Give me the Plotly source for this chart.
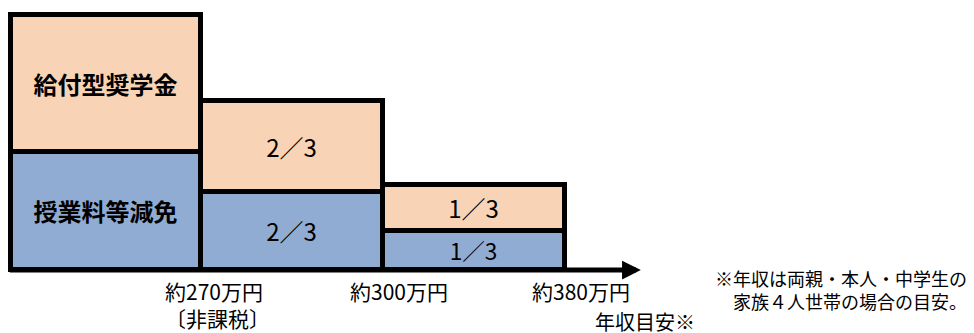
import plotly.graph_objects as go

# ---- data ----
income_labels = ["約270万円<br>〔非課税〕", "約300万円", "約380万円"]
tuition_values = [118, 78, 39]        # 授業料等減免 (relative height)
scholarship_values = [137, 91, 46]    # 給付型奨学金 (relative height)
tuition_text = ["<b>授業料等減免</b>", "2／3", "1／3"]
scholarship_text = ["<b>給付型奨学金</b>", "2／3", "1／3"]
axis_title = "年収目安※"
note_lines = ["※年収は両親・本人・中学生の", "家族４人世帯の場合の目安。"]

# ---- layout helpers (positions) ----
edges = [-0.045, 1, 2, 3]
centers = [(edges[i] + edges[i + 1]) / 2 for i in range(3)]
widths = [edges[i + 1] - edges[i] for i in range(3)]

FONT = "Noto Sans CJK JP"
ORANGE = "#F8D3B5"
BLUE = "#91ACD2"
PLOT_H = 290  # plot-area height in px


def py(pixel):
    return (PLOT_H - pixel) / PLOT_H


fig = go.Figure()
fig.add_trace(go.Bar(
    x=centers, y=tuition_values, width=widths,
    marker=dict(color=BLUE, line=dict(color="black", width=5)),
    text=tuition_text, textposition="inside", insidetextanchor="middle",
    textfont=dict(family=FONT, size=[24, 24, 24], color="black"),
    hoverinfo="skip", showlegend=False,
))
fig.add_trace(go.Bar(
    x=centers, y=scholarship_values, width=widths,
    marker=dict(color=ORANGE, line=dict(color="black", width=5)),
    text=scholarship_text, textposition="inside", insidetextanchor="middle",
    textfont=dict(family=FONT, size=[24, 24, 24], color="black"),
    hoverinfo="skip", showlegend=False,
))

u = 181.75
x0 = -19.25 / u
x1 = x0 + 974 / u

annotations = []
# axis arrow
annotations.append(dict(
    x=3.42, y=0, ax=-0.06, ay=0, xref="x", yref="y", axref="x", ayref="y",
    showarrow=True, arrowhead=2, arrowsize=0.75, arrowwidth=5, arrowcolor="black",
    text="",
))
for i, lab in enumerate(income_labels):
    annotations.append(dict(
        x=edges[i + 1], y=py(274), xref="x", yref="paper", xshift=16,
        text=lab, showarrow=False, xanchor="center", yanchor="top", align="left",
        font=dict(family=FONT, size=21, color="black"),
    ))
annotations.append(dict(
    x=593 / 974, y=py(305), xref="paper", yref="paper", text=axis_title, showarrow=False,
    xanchor="left", yanchor="top", font=dict(family=FONT, size=20, color="black"),
))
for line, ypix in zip(note_lines, [277.5, 300.5]):
    annotations.append(dict(
        x=969 / 974, y=py(ypix), xref="paper", yref="paper",
        text=line, showarrow=False, align="right",
        xanchor="right", yanchor="middle", font=dict(family=FONT, size=18, color="black"),
    ))

fig.update_layout(
    width=974, height=333,
    margin=dict(l=0, r=0, t=0, b=333 - PLOT_H),
    paper_bgcolor="white", plot_bgcolor="white",
    barmode="stack", bargap=0,
    xaxis=dict(range=[x0, x1], visible=False, fixedrange=True),
    yaxis=dict(range=[-20, 270], visible=False, fixedrange=True),
    annotations=annotations,
    font=dict(family=FONT),
)

fig.write_html("out.html")
